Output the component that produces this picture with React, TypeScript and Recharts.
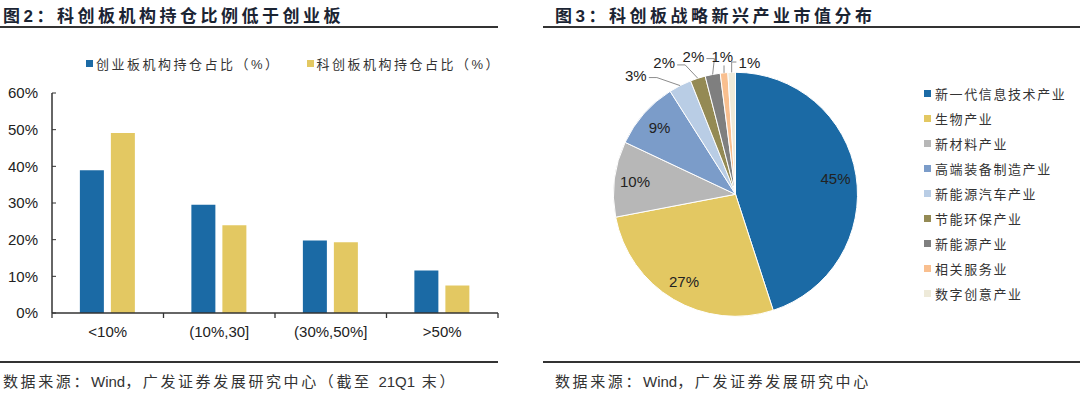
import React from "react";
import { BarChart, Bar, XAxis, YAxis, PieChart, Pie, Cell } from "recharts";

// 图2 data
const barCategories = ["<10%", "(10%,30]", "(30%,50%]", ">50%"];
const chinextShare = [38.9, 29.5, 19.8, 11.6];
const starShare = [49.1, 23.9, 19.3, 7.5];
const barSeriesNames = ["创业板机构持仓占比（%）", "科创板机构持仓占比（%）"];
const barColors = ["#1B6AA5", "#E3C862"];
const yTicks = [0, 10, 20, 30, 40, 50, 60];

// 图3 data
const industries = [
  "新一代信息技术产业",
  "生物产业",
  "新材料产业",
  "高端装备制造产业",
  "新能源汽车产业",
  "节能环保产业",
  "新能源产业",
  "相关服务业",
  "数字创意产业",
];
const industryShare = [45, 27, 10, 9, 3, 2, 2, 1, 1];
const industryColors = [
  "#1B6AA5",
  "#E3C862",
  "#B7B7B7",
  "#7B9CC9",
  "#B9CDE5",
  "#948A54",
  "#7F7F7F",
  "#F9BF8F",
  "#EEEAD9",
];

const barData = barCategories.map((c, i) => ({
  name: c,
  chinext: chinextShare[i],
  star: starShare[i],
}));
const pieData = industries.map((n, i) => ({ name: n, value: industryShare[i] }));

const FONT = "'Liberation Sans', 'Noto Sans CJK SC', sans-serif";
const RAD = Math.PI / 180;

function XTick(props: any) {
  const { x, y, payload, index } = props;
  const off = payload && payload.offset ? payload.offset : 55.75;
  const last = index === barCategories.length - 1;
  return (
    <g>
      <line x1={x - off} y1={y} x2={x - off} y2={y + 5} stroke="#333" strokeWidth={1.3} />
      {last && <line x1={x + off} y1={y} x2={x + off} y2={y + 5} stroke="#333" strokeWidth={1.3} />}
      <text x={x} y={y + 24} textAnchor="middle" fontSize={15} fill="#222" fontFamily={FONT}>
        {payload.value}
      </text>
    </g>
  );
}

const firstSmall = industryShare.findIndex((v) => v < 5);

function PieLabel(props: any) {
  const { cx, cy, midAngle, outerRadius, value, index } = props;
  if (value >= 5) {
    const r = outerRadius * 0.83;
    const x = cx + r * Math.cos(-midAngle * RAD);
    const y = cy + r * Math.sin(-midAngle * RAD);
    return (
      <text x={x} y={y} textAnchor="middle" dominantBaseline="central" fontSize={15} fill="#222" fontFamily={FONT}>
        {value}%
      </text>
    );
  }
  // small slices: fan labels out above the pie
  const k = index - firstSmall;
  const cw = 320 + k * 11.5; // clockwise from top
  const rl = outerRadius + 33 - 5.5 * k;
  const xl = cx + rl * Math.sin(cw * RAD);
  const yl = cy - rl * Math.cos(cw * RAD);
  const ex = cx + outerRadius * Math.cos(-midAngle * RAD);
  const ey = cy + outerRadius * Math.sin(-midAngle * RAD);
  const hw = 11;
  let pts: string;
  if (xl + hw + 2 < ex) {
    const ax = xl + hw + 2;
    pts = `${ex},${ey} ${ax + 8},${yl + 2} ${ax},${yl + 2}`;
  } else if (xl - hw - 2 > ex) {
    const ax = xl - hw - 2;
    pts = `${ex},${ey} ${ex},${yl} ${ax},${yl}`;
  } else {
    pts = `${ex},${ey} ${ex},${yl + 9}`;
  }
  return (
    <g>
      <polyline points={pts} fill="none" stroke="#8C8C8C" strokeWidth={1} />
      <text x={xl} y={yl} textAnchor="middle" dominantBaseline="central" fontSize={15} fill="#222" fontFamily={FONT}>
        {value}%
      </text>
    </g>
  );
}

const titleStyle: React.CSSProperties = {
  position: "absolute",
  top: 2,
  fontFamily: FONT,
  fontWeight: 700,
  fontSize: 17,
  letterSpacing: "3.5px",
  color: "#1b2433",
  whiteSpace: "nowrap",
};
const sourceStyle: React.CSSProperties = {
  position: "absolute",
  top: 370,
  fontFamily: FONT,
  fontSize: 15,
  letterSpacing: "2.6px",
  color: "#333",
  whiteSpace: "nowrap",
};
const latin: React.CSSProperties = { letterSpacing: 0 };
const rule = (left: number, width: number, top: number): React.CSSProperties => ({
  position: "absolute",
  left,
  width,
  top,
  height: 2,
  background: "#333",
});

export default function App() {
  return (
    <div style={{ position: "absolute", left: 0, top: 0, width: 1080, height: 395, background: "#fff", overflow: "hidden" }}>
      {/* left panel */}
      <div style={{ ...titleStyle, left: 3 }}>图2：科创板机构持仓比例低于创业板</div>
      <div style={rule(0, 498, 26)} />
      <div style={{ position: "absolute", top: 54, left: 86, display: "flex", fontFamily: FONT, fontSize: 13, color: "#333", letterSpacing: "2.5px", whiteSpace: "nowrap" }}>
        {barSeriesNames.map((n, i) => (
          <div key={n} style={{ display: "flex", alignItems: "center", marginRight: i === 0 ? 26 : 0 }}>
            <span style={{ width: 7, height: 7, background: barColors[i], marginRight: 3 }} />
            <span>{n}</span>
          </div>
        ))}
      </div>
      <div style={{ position: "absolute", left: 0, top: 40 }}>
        <BarChart
          width={510}
          height={310}
          data={barData}
          margin={{ top: 53, right: 12, left: 0, bottom: 7 }}
          barCategoryGap="25%"
          barGap={7}
        >
          <XAxis
            dataKey="name"
            height={30}
            axisLine={{ stroke: "#333", strokeWidth: 1.5 }}
            tickLine={false}
            tickSize={0}
            tickMargin={0}
            interval={0}
            tick={<XTick />}
          />
          <YAxis
            width={52}
            domain={[0, 60]}
            ticks={yTicks}
            interval={0}
            tickFormatter={(v) => `${v}%`}
            axisLine={{ stroke: "#333", strokeWidth: 1.5 }}
            tickLine={{ stroke: "#333" }}
            tickSize={-4}
            tickMargin={18}
            tick={{ fontSize: 15, fill: "#222", fontFamily: FONT }}
          />
          <Bar dataKey="chinext" name={barSeriesNames[0]} fill={barColors[0]} isAnimationActive={false} />
          <Bar dataKey="star" name={barSeriesNames[1]} fill={barColors[1]} isAnimationActive={false} />
        </BarChart>
      </div>
      <div style={{ ...sourceStyle, left: 3 }}>
        数据来源：<span style={latin}>Wind</span>，广发证券发展研究中心（截至 <span style={latin}>21Q1</span> 末）
      </div>
      <div style={rule(0, 498, 361)} />

      {/* right panel */}
      <div style={{ ...titleStyle, left: 555 }}>图3：科创板战略新兴产业市值分布</div>
      <div style={rule(543, 537, 26)} />
      <div style={{ position: "absolute", left: 543, top: 40 }}>
        <PieChart width={537} height={310} margin={{ top: 0, right: 0, bottom: 0, left: 0 }}>
          <Pie
            data={pieData}
            dataKey="value"
            nameKey="name"
            cx={192.5}
            cy={154.3}
            outerRadius={122}
            startAngle={90}
            endAngle={-270}
            stroke="#fff"
            strokeWidth={1}
            label={PieLabel}
            labelLine={false}
            isAnimationActive={false}
          >
            {pieData.map((d, i) => (
              <Cell key={d.name} fill={industryColors[i]} />
            ))}
          </Pie>
        </PieChart>
      </div>
      <div style={{ position: "absolute", left: 924, top: 81, fontFamily: FONT, fontSize: 13, color: "#333", letterSpacing: "1.6px" }}>
        {industries.map((n, i) => (
          <div key={n} style={{ display: "flex", alignItems: "center", height: 25, whiteSpace: "nowrap" }}>
            <span style={{ width: 7, height: 7, background: industryColors[i], marginRight: 4 }} />
            <span>{n}</span>
          </div>
        ))}
      </div>
      <div style={{ ...sourceStyle, left: 555 }}>
        数据来源：<span style={latin}>Wind</span>，广发证券发展研究中心
      </div>
      <div style={rule(543, 537, 361)} />
    </div>
  );
}
